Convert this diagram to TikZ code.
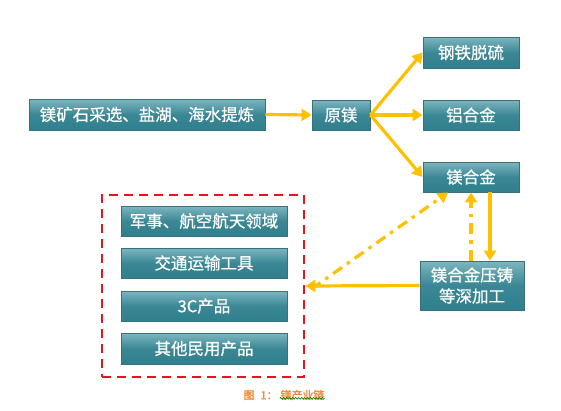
\documentclass[tikz,border=0pt]{standalone}
\usepackage{fontspec}
\setmainfont{Noto Sans CJK SC}
\newfontfamily\boxfont[FakeBold=0.6]{Noto Sans CJK SC}
\newfontfamily\capfont[FakeBold=2]{Noto Sans CJK SC}
\usetikzlibrary{arrows.meta,decorations.pathmorphing}
\definecolor{boxtop}{HTML}{7DB6C0}
\definecolor{boxbot}{HTML}{2F7F8D}
\definecolor{boxline}{HTML}{3A6F7C}
\definecolor{arrowc}{HTML}{FFC000}
\definecolor{redd}{HTML}{E8141C}
\definecolor{capc}{HTML}{F28C3A}
\begin{document}
\begin{tikzpicture}[x=1pt,y=-1pt,
  tbox/.style={draw=boxline, line width=0.9pt, top color=boxtop, bottom color=boxbot,
    middle color=boxbot!85!boxtop, text=white, font=\boxfont\fontsize{16.5}{19}\selectfont,
    inner sep=0pt, align=center},
  flow/.style={draw=arrowc, line width=3.2pt, -{Triangle[length=10pt,width=12pt]}},
  dflow/.style={flow, dash pattern=on 11pt off 6pt on 3.5pt off 6pt}
]
\useasboundingbox (0,0) rectangle (561,410);
\node[tbox, minimum width=236pt, minimum height=31pt] (src) at (147,114.5) {镁矿石采选、盐湖、海水提炼};
\node[tbox, minimum width=58pt, minimum height=30pt] (raw) at (341,115) {原镁};
\node[tbox, minimum width=96pt, minimum height=31pt] (steel) at (471,52.5) {钢铁脱硫};
\node[tbox, minimum width=96pt, minimum height=30pt] (al) at (471,115) {铝合金};
\node[tbox, minimum width=96pt, minimum height=30pt] (mg) at (471,177) {镁合金};
\node[tbox, minimum width=104pt, minimum height=49pt, font=\boxfont\fontsize{16.5}{21}\selectfont] (proc) at (472,285.5) {镁合金压铸\\等深加工};
\node[draw=redd, line width=2.8pt, dash pattern=on 9pt off 6pt, minimum width=202pt, minimum height=182pt, inner sep=0pt] (grp) at (203,286) {};
\node[tbox, minimum width=166pt, minimum height=30pt] (u1) at (204,221) {军事、航空航天领域};
\node[tbox, minimum width=166pt, minimum height=30pt] (u2) at (204,263) {交通运输工具};
\node[tbox, minimum width=166pt, minimum height=30pt] (u3) at (204,306) {3C产品};
\node[tbox, minimum width=166pt, minimum height=31pt] (u4) at (204,348.5) {其他民用产品};
\draw[flow] (src.east) -- (raw.west);
\draw[flow] (raw.east) -- (steel.west);
\draw[flow] (raw.east) -- (al.west);
\draw[flow] (raw.east) -- (mg.west);
\draw[flow] ([xshift=19pt]mg.south) -- ([xshift=19pt]mg.south |- proc.north);
\draw[dflow] (proc.north -| mg.south) -- (mg.south);
\draw[flow] (proc.west) -- (grp.east);
\draw[dflow] ([xshift=6pt,yshift=-3pt]grp.east) -- ([xshift=-23pt]mg.south);
\node[text=capc, font=\capfont\fontsize{11}{13}\selectfont, inner sep=0pt] (cap) at (284,395) {图\hspace{6pt}1：\hspace{3pt}镁产业链};
\draw[green!50!black, line width=0.6pt, decorate, decoration={snake, amplitude=0.9pt, segment length=3pt}] ([xshift=-45pt,yshift=2pt]cap.south east) coordinate (w1) -- ([yshift=2pt]cap.south east);
\end{tikzpicture}
\end{document}
